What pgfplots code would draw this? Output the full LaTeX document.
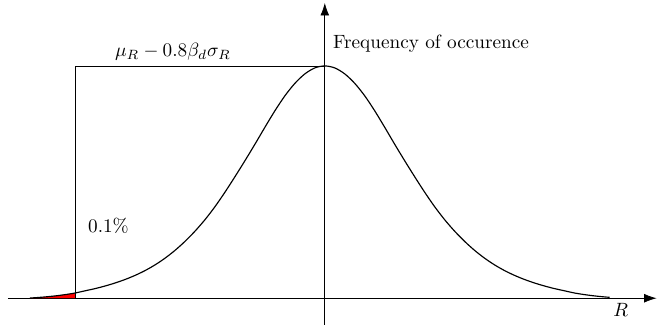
\documentclass[border=0pt]{standalone}
\usepackage{pgfplots}
\pgfplotsset{compat=1.18}
\usetikzlibrary{arrows.meta}

% Frequency curve of the resistance R, read as (offset from the mean, relative height)
\pgfplotstableread{
x       y
-2.95   0.002
-2.90   0.005
-2.80   0.013
-2.70   0.023
-2.60   0.036
-2.50   0.052
-2.40   0.074
-2.30   0.096
-2.20   0.122
-2.10   0.152
-2.00   0.187
-1.90   0.228
-1.80   0.276
-1.70   0.333
-1.60   0.400
-1.50   0.478
-1.40   0.568
-1.30   0.670
-1.20   0.785
-1.10   0.915
-1.00   1.060
-0.90   1.215
-0.80   1.375
-0.70   1.540
-0.60   1.710
-0.50   1.875
-0.40   2.025
-0.30   2.150
-0.20   2.245
-0.10   2.305
0.00    2.325
0.10    2.305
0.20    2.245
0.30    2.150
0.40    2.025
0.50    1.875
0.60    1.710
0.70    1.540
0.80    1.375
0.90    1.215
1.00    1.060
1.10    0.915
1.20    0.785
1.30    0.670
1.40    0.568
1.50    0.478
1.60    0.400
1.70    0.333
1.80    0.276
1.90    0.228
2.00    0.187
2.10    0.152
2.20    0.122
2.30    0.096
2.40    0.074
2.50    0.052
2.60    0.036
2.70    0.023
2.80    0.013
2.85    0.009
}\curve

\begin{document}
\begin{tikzpicture}
\begin{axis}[
  scale only axis,
  width=337.5pt, height=167.4pt,
  xmin=-3.17, xmax=3.32,
  ymin=-0.265, ymax=2.955,
  axis lines=middle,
  axis line style={draw=black, line width=0.4pt, -{Latex[length=6.5pt,width=4.6pt]}},
  xtick=\empty, ytick=\empty,
  clip=false,
]
  % overall extent of the figure
  \path[draw=none] (axis cs:-3.25,-0.305) rectangle (axis cs:3.32,2.985);

  % lower tail below the design value
  \addplot[fill=red, draw=none] coordinates {(-2.95,0) (-2.95,0.002) (-2.90,0.005) (-2.80,0.013) (-2.70,0.023) (-2.60,0.036) (-2.50,0.052) (-2.50,0)} -- cycle;

  % design value marker lines
  \addplot[draw=black, line width=0.4pt] coordinates {(-2.50,0) (-2.50,2.325) (0,2.325)};

  % frequency curve
  \addplot[black, line width=0.6pt, smooth] table[x=x, y=y] {\curve};

  \node[anchor=base west, inner sep=0pt] at (axis cs:0.08,2.50) {Frequency of occurence};
  \node[anchor=base, inner sep=0pt] at (axis cs:-1.52,2.42) {$\mu_R - 0.8\beta_d\sigma_R$};
  \node[anchor=base, inner sep=0pt] at (axis cs:-2.165,0.655) {0.1\%};
  \node[anchor=base, inner sep=0pt] at (axis cs:2.96,-0.185) {$R$};
\end{axis}
\end{tikzpicture}
\end{document}
